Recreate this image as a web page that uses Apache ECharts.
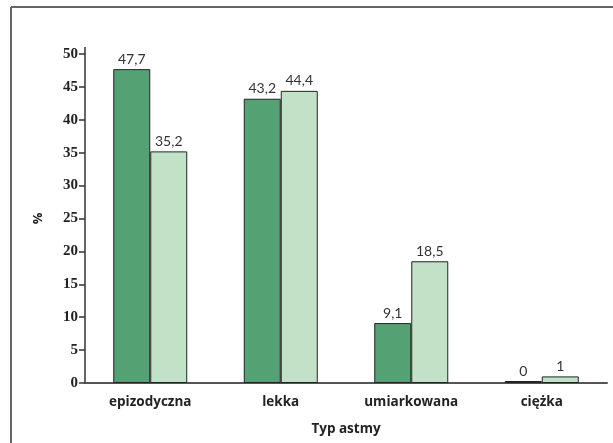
<!DOCTYPE html>
<html>
<head>
<meta charset="utf-8">
<script src="https://cdn.jsdelivr.net/npm/echarts@6/dist/echarts.min.js"></script>
<style>
html, body { margin: 0; padding: 0; background: #fff; }
#main { width: 613px; height: 443px; }
</style>
</head>
<body>
<div id="main"></div>
<script>
var categories = ['epizodyczna', 'lekka', 'umiarkowana', 'ciężka'];
var seriesA = [47.7, 43.2, 9.1, 0];
var seriesB = [35.2, 44.4, 18.5, 1];
var yTicks = [0, 5, 10, 15, 20, 25, 30, 35, 40, 45, 50];

function fmt(p) {
    return String(p.value).replace('.', ',');
}

var chart = echarts.init(document.getElementById('main'));
var option = {
    backgroundColor: '#fff',
    animation: false,
    graphic: [
        { type: 'line', shape: { x1: 11, y1: 7, x2: 613, y2: 7 }, style: { stroke: '#666', lineWidth: 2 } },
        { type: 'line', shape: { x1: 11, y1: 7, x2: 11, y2: 443 }, style: { stroke: '#666', lineWidth: 2 } },
        // short axis extension above the 50 tick
        { type: 'line', shape: { x1: 85, y1: 47, x2: 85, y2: 54 }, style: { stroke: '#333', lineWidth: 1.5 } }
    ],
    grid: { left: 85, right: 6, top: 54, bottom: 60 },
    xAxis: {
        type: 'category',
        data: categories,
        name: 'Typ astmy',
        nameLocation: 'middle',
        nameGap: 39,
        nameTextStyle: { fontFamily: 'Open Sans', fontWeight: 'bold', fontSize: 13.5, color: '#222' },
        axisLine: { lineStyle: { color: '#555', width: 2 } },
        axisTick: { show: false },
        axisLabel: { fontFamily: 'Open Sans', fontWeight: 'bold', fontSize: 13.5, color: '#222', margin: 12 }
    },
    yAxis: {
        type: 'value',
        min: 0,
        max: 50,
        interval: 5,
        name: '%',
        nameLocation: 'middle',
        nameGap: 40,
        nameRotate: 90,
        nameTextStyle: { fontFamily: 'Open Sans', fontWeight: 'bold', fontSize: 13, color: '#222' },
        splitLine: { show: false },
        axisLine: { show: true, lineStyle: { color: '#333', width: 1.5 } },
        axisTick: { show: true, inside: false, length: 6, lineStyle: { color: '#333', width: 1.5 } },
        axisLabel: {
            fontFamily: 'Liberation Serif', fontWeight: 'bold', fontSize: 15, color: '#222', margin: 7,
            formatter: function (v) { return yTicks.indexOf(v) >= 0 ? String(v) : ''; }
        }
    },
    series: [
        {
            type: 'bar',
            data: seriesA,
            barWidth: 37,
            barGap: '0%',
            barMinHeight: 2,
            itemStyle: { color: '#54a174', borderColor: '#222', borderWidth: 1 },
            label: { show: true, position: 'top', formatter: fmt, fontFamily: 'Lato', fontSize: 14, color: '#333', distance: 3 }
        },
        {
            type: 'bar',
            data: seriesB,
            barWidth: 37,
            barGap: '0%',
            itemStyle: { color: '#c2e2c8', borderColor: '#222', borderWidth: 1 },
            label: { show: true, position: 'top', formatter: fmt, fontFamily: 'Lato', fontSize: 14, color: '#333', distance: 3 }
        }
    ]
};
chart.setOption(option);
</script>
</body>
</html>
